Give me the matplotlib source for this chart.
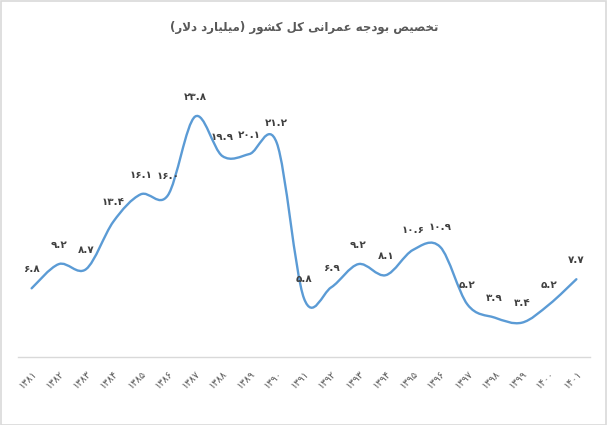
import matplotlib
matplotlib.use("Agg")
import matplotlib.pyplot as plt
from matplotlib.path import Path
from matplotlib.patches import PathPatch, Rectangle
import numpy as np

title_text = "تخصیص بودجه عمرانی کل کشور (میلیارد دلار)"
years = ["۱۳۸۱", "۱۳۸۲", "۱۳۸۳", "۱۳۸۴", "۱۳۸۵", "۱۳۸۶", "۱۳۸۷", "۱۳۸۸", "۱۳۸۹", "۱۳۹۰",
         "۱۳۹۱", "۱۳۹۲", "۱۳۹۳", "۱۳۹۴", "۱۳۹۵", "۱۳۹۶", "۱۳۹۷", "۱۳۹۸", "۱۳۹۹", "۱۴۰۰", "۱۴۰۱"]
values = [6.8, 9.2, 8.7, 13.4, 16.1, 16.0, 23.8, 19.9, 20.1, 21.2,
          5.8, 6.9, 9.2, 8.1, 10.6, 10.9, 5.2, 3.9, 3.4, 5.2, 7.7]

# ---- minimal Persian shaping (presentation forms) ----
FORMS = {  # iso, fin, ini, med
    'ا': ('\uFE8D', '\uFE8E', None, None),
    'ب': ('\uFE8F', '\uFE90', '\uFE91', '\uFE92'),
    'ت': ('\uFE95', '\uFE96', '\uFE97', '\uFE98'),
    'ج': ('\uFE9D', '\uFE9E', '\uFE9F', '\uFEA0'),
    'خ': ('\uFEA5', '\uFEA6', '\uFEA7', '\uFEA8'),
    'د': ('\uFEA9', '\uFEAA', None, None),
    'ر': ('\uFEAD', '\uFEAE', None, None),
    'ش': ('\uFEB5', '\uFEB6', '\uFEB7', '\uFEB8'),
    'ص': ('\uFEB9', '\uFEBA', '\uFEBB', '\uFEBC'),
    'ع': ('\uFEC9', '\uFECA', '\uFECB', '\uFECC'),
    'ل': ('\uFEDD', '\uFEDE', '\uFEDF', '\uFEE0'),
    'م': ('\uFEE1', '\uFEE2', '\uFEE3', '\uFEE4'),
    'ن': ('\uFEE5', '\uFEE6', '\uFEE7', '\uFEE8'),
    'ه': ('\uFEE9', '\uFEEA', '\uFEEB', '\uFEEC'),
    'و': ('\uFEED', '\uFEEE', None, None),
    'ک': ('\uFB8E', '\uFB8F', '\uFB90', '\uFB91'),
    'ی': ('\uFBFC', '\uFBFD', '\uFBFE', '\uFBFF'),
}


def dual(c):
    return c in FORMS and FORMS[c][2] is not None


def shape(s):
    out = []
    n = len(s)
    i = 0
    while i < n:
        c = s[i]
        if c not in FORMS:
            out.append(c)
            i += 1
            continue
        prev_joins = i > 0 and dual(s[i - 1])
        # lam-alef ligature
        if c == 'ل' and i + 1 < n and s[i + 1] == 'ا':
            out.append('\uFEFC' if prev_joins else '\uFEFB')
            i += 2
            continue
        next_joins = dual(c) and i + 1 < n and s[i + 1] in FORMS
        iso, fin, ini, med = FORMS[c]
        if prev_joins and next_joins:
            out.append(med)
        elif prev_joins:
            out.append(fin)
        elif next_joins:
            out.append(ini)
        else:
            out.append(iso)
        i += 1
    vis = ''.join(reversed(out))
    vis = vis.translate(str.maketrans('()', ')('))
    return vis


def to_fa(v):
    d = str.maketrans('0123456789', '۰۱۲۳۴۵۶۷۸۹')
    return f"{v:.1f}".translate(d)


W, H = 609, 425
fig = plt.figure(figsize=(W / 100, H / 100), dpi=100)
fig.patch.set_facecolor('white')
fig.patches.append(Rectangle((0.5 / W, 0.5 / H), 1 - 3.5 / W, 1 - 1.5 / H, transform=fig.transFigure,
                             fill=False, edgecolor='#D9D9D9', linewidth=1.2))

ax = fig.add_axes([18 / W, 68 / H, 572 / W, 303 / H])
ax.set_xlim(-0.5, len(values) - 0.5)
ax.set_ylim(0, 30)
for s in ['top', 'right', 'left']:
    ax.spines[s].set_visible(False)
ax.spines['bottom'].set_color('#D9D9D9')
ax.spines['bottom'].set_linewidth(1.0)
ax.set_yticks([])

x = np.arange(len(values))
y = np.array(values, dtype=float)

# Excel-like smoothed line via cubic Bezier segments
verts = [(x[0], y[0])]
codes = [Path.MOVETO]
n = len(x)
for i in range(n - 1):
    p0 = (x[i - 1], y[i - 1]) if i > 0 else (x[i], y[i])
    p1 = (x[i], y[i])
    p2 = (x[i + 1], y[i + 1])
    p3 = (x[i + 2], y[i + 2]) if i + 2 < n else (x[i + 1], y[i + 1])
    t = 1 / 6
    c1 = (p1[0] + (p2[0] - p0[0]) * t, p1[1] + (p2[1] - p0[1]) * t)
    c2 = (p2[0] - (p3[0] - p1[0]) * t, p2[1] - (p3[1] - p1[1]) * t)
    verts += [c1, c2, p2]
    codes += [Path.CURVE4] * 3
ax.add_patch(PathPatch(Path(verts, codes), facecolor='none', edgecolor='#5B9BD5', linewidth=1.7,
                       capstyle='round', joinstyle='round'))

for xi, yi in zip(x, y):
    ax.annotate(to_fa(yi), (xi, yi), xytext=(0, 14), textcoords='offset points',
                ha='center', va='center', fontsize=7.5, fontweight='bold', color='#404040',
                family='DejaVu Sans')

ax.set_xticks(x)
ax.set_xticklabels(years, rotation=45, ha='right', va='top', rotation_mode='anchor',
                   fontsize=7, color='#595959', family='DejaVu Sans')
ax.tick_params(axis='x', length=0, pad=8)

fig.text(0.5, 1 - 27 / H, shape(title_text), ha='center', va='center', fontsize=8.5,
         fontweight='bold', color='#595959', family='DejaVu Sans')

fig.savefig('out.png', dpi=100)
